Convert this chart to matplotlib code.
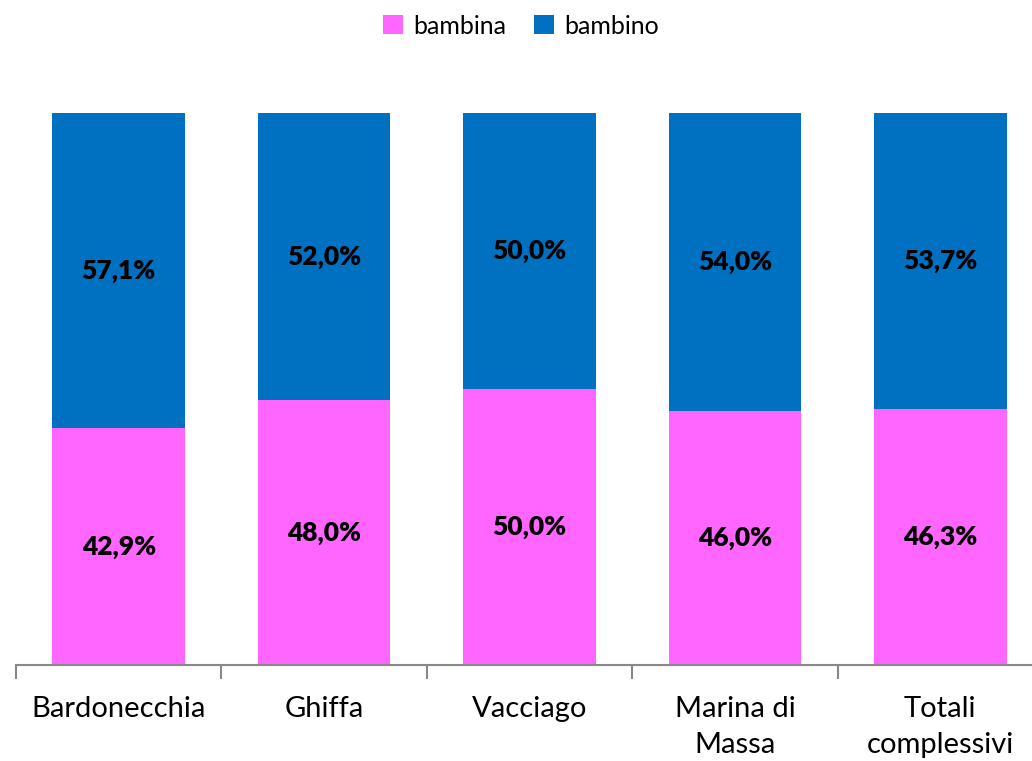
import matplotlib
matplotlib.use("Agg")
import matplotlib.pyplot as plt
import numpy as np

categories = ["Bardonecchia", "Ghiffa", "Vacciago", "Marina di\nMassa", "Totali\ncomplessivi"]
bambina = [42.9, 48.0, 50.0, 46.0, 46.3]
bambino = [57.1, 52.0, 50.0, 54.0, 53.7]

plt.rcParams['font.family'] = ['Lato', 'DejaVu Sans']

fig = plt.figure(figsize=(10.32, 7.61), dpi=100)
ax = fig.add_axes([16/1032, 96/761, 1027/1032, 552/761])

x = np.arange(len(categories))
w = 0.645
b1 = ax.bar(x, bambina, w, color="#FF66FF", label="bambina")
b2 = ax.bar(x, bambino, w, bottom=bambina, color="#0070C0", label="bambino")

for i in range(len(x)):
    ax.text(x[i], bambina[i] / 2, f"{bambina[i]:.1f}%".replace(".", ","),
            ha="center", va="center", fontsize=19, fontweight="heavy")
    ax.text(x[i], bambina[i] + bambino[i] / 2, f"{bambino[i]:.1f}%".replace(".", ","),
            ha="center", va="center", fontsize=19, fontweight="heavy")

ax.set_xlim(-0.5, len(x) - 0.5)
ax.set_ylim(0, 100)
ax.set_yticks([])
for s in ["top", "right", "left"]:
    ax.spines[s].set_visible(False)
ax.spines["bottom"].set_color("#888888")
ax.spines["bottom"].set_linewidth(1.5)

ax.set_xticks(np.arange(len(x) + 1) - 0.5, minor=True)
ax.set_xticks(x)
ax.set_xticklabels(categories, fontsize=21, linespacing=1.5)
ax.tick_params(axis="x", which="major", length=0, pad=22)
ax.tick_params(axis="x", which="minor", length=10, width=1.5, color="#888888")

fig.legend(handles=[b1, b2], labels=["bambina", "bambino"], loc="center",
           bbox_to_anchor=(521/1032, 1 - 26/761), ncol=2, frameon=False,
           fontsize=18, handlelength=0.8, handleheight=0.8, handletextpad=0.4,
           columnspacing=1.1)

fig.savefig("out.png", dpi=100)
